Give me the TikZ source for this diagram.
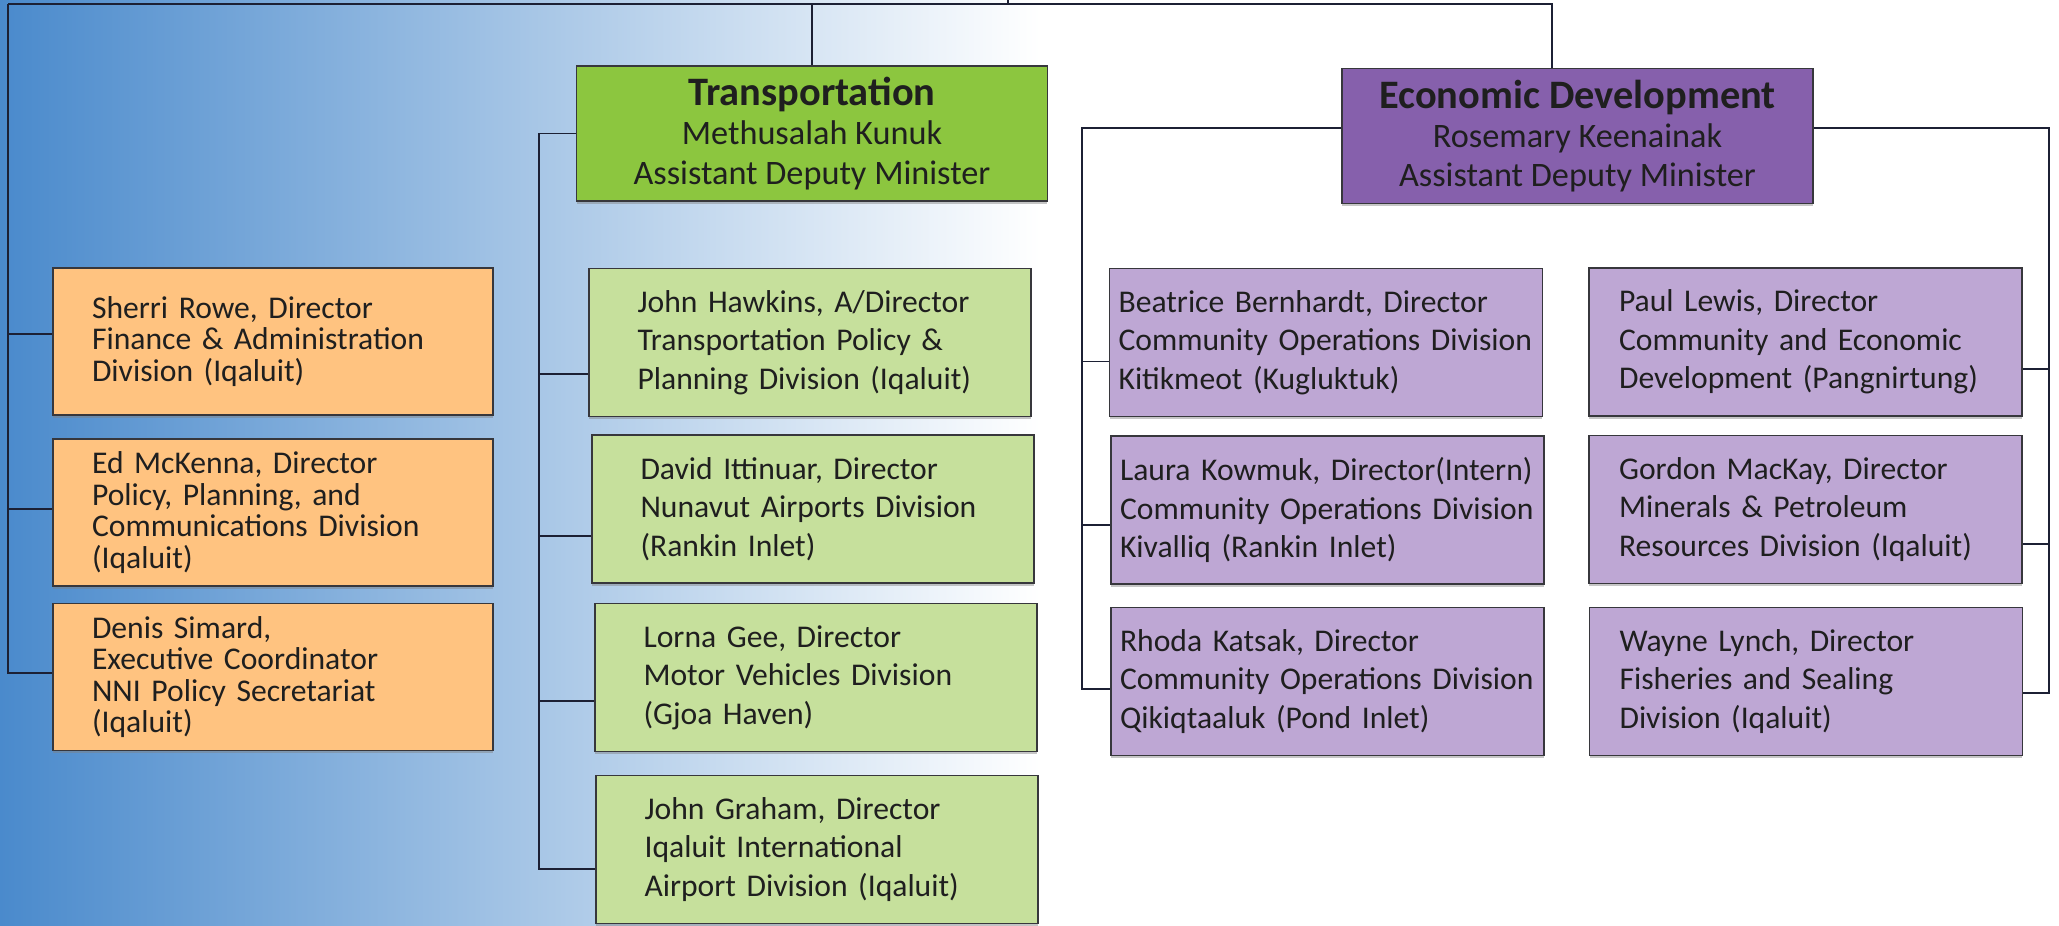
\documentclass[tikz,border=0pt]{standalone}
\usepackage{fontspec}
\setmainfont{Carlito}
\usetikzlibrary{shadows}

\definecolor{bgblue}{RGB}{74,138,204}
\definecolor{bgmid}{RGB}{165,199,231}
\definecolor{orangebox}{RGB}{255,195,128}
\definecolor{greenhead}{RGB}{140,198,63}
\definecolor{greenbox}{RGB}{198,224,156}
\definecolor{purplehead}{RGB}{134,96,172}
\definecolor{purplebox}{RGB}{190,167,212}
\definecolor{edgecol}{RGB}{55,55,60}
\definecolor{linecol}{RGB}{28,32,52}

\tikzset{
  box/.style={draw=edgecol, line width=0.9pt, inner ysep=0pt, text=black!88,
    drop shadow={shadow xshift=0pt, shadow yshift=-1.6pt, opacity=0.45}},
  head/.style={box, align=center, minimum width=9.42cm, minimum height=2.7cm,
    font=\fontsize{19.5}{22.4}\selectfont},
  staff/.style={box, fill=orangebox, align=left, text width=7.24cm, inner xsep=0.78cm,
    minimum height=2.94cm, font=\fontsize{18}{18}\selectfont},
  trans/.style={box, fill=greenbox, align=left, text width=6.9cm, inner xsep=0.97cm,
    minimum height=2.96cm, font=\fontsize{18}{22}\selectfont},
  econL/.style={box, fill=purplebox, align=left, text width=8.3cm, inner xsep=0.18cm,
    minimum height=2.96cm, font=\fontsize{18}{22}\selectfont},
  econR/.style={econL, text width=7.46cm, inner xsep=0.6cm},
  link/.style={draw=linecol, line width=1.1pt}
}

\begin{document}
\begin{tikzpicture}[x=0.02cm, y=-0.02cm]
    \useasboundingbox (0,0) rectangle (2059,926);
    \shade[left color=bgblue, middle color=bgmid, right color=white] (0,0) rectangle (1040,926);

    % division heads
    \node[head, fill=greenhead] (T) at (812,133.5) {{\bfseries\fontsize{23}{26}\selectfont Transportation}\\Methusalah Kunuk\\Assistant Deputy Minister};
    \node[head, fill=purplehead] (E) at (1577.5,136) {{\bfseries\fontsize{23}{26}\selectfont Economic Development}\\Rosemary Keenainak\\Assistant Deputy Minister};

    % directorate
    \node[staff] (o1) at (273,341.5) {Sherri Rowe, Director\\Finance \& Administration\\Division (Iqaluit)};
    \node[staff] (o2) at (273,512.5) {Ed McKenna, Director\\Policy, Planning, and\\Communications Division\\(Iqaluit)};
    \node[staff] (o3) at (273,677) {Denis Simard,\\Executive Coordinator\\NNI Policy Secretariat\\(Iqaluit)};

    % transportation
    \node[trans] (g1) at (810,342.5) {John Hawkins, A/Director\\Transportation Policy \&\\Planning Division (Iqaluit)};
    \node[trans] (g2) at (813,509) {David Ittinuar, Director\\Nunavut Airports Division\\(Rankin Inlet)};
    \node[trans] (g3) at (816,677.5) {Lorna Gee, Director\\Motor Vehicles Division\\(Gjoa Haven)};
    \node[trans] (g4) at (817,849.5) {John Graham, Director\\Iqaluit International\\Airport Division (Iqaluit)};

    % economic development
    \node[econL] (p1) at (1326,342.5) {Beatrice Bernhardt, Director\\Community Operations Division\\Kitikmeot (Kugluktuk)};
    \node[econL] (p2) at (1327.5,510) {Laura Kowmuk, Director(Intern)\\Community Operations Division\\Kivalliq (Rankin Inlet)};
    \node[econL] (p3) at (1327.5,681.5) {Rhoda Katsak, Director\\Community Operations Division\\Qikiqtaaluk (Pond Inlet)};
    \node[econR] (p4) at (1805.5,342) {Paul Lewis, Director\\Community and Economic\\Development (Pangnirtung)};
    \node[econR] (p5) at (1805.5,509.5) {Gordon MacKay, Director\\Minerals \& Petroleum\\Resources Division (Iqaluit)};
    \node[econR] (p6) at (1806,681.5) {Wayne Lynch, Director\\Fisheries and Sealing\\Division (Iqaluit)};

    % top bus
    \coordinate (busL) at (8,4);
    \coordinate (busR) at (1552,4);
    \coordinate (up) at (1008,0);
    \draw[link] (up) -- (up |- busL);
    \draw[link] (busL) -- (busR) -- (busR |- E.north);
    \draw[link] (T.north) -- (T.north |- busL);
    \draw[link] (busL) |- (o3.179);
    \foreach \n/\a in {o1/178, o2/179}
        \draw[link] (busL |- \n.\a) -- (\n.\a);

    % transportation branch
    \coordinate (tbus) at (539,0);
    \draw[link] (T.west) -| (tbus |- g4.185) -- (g4.185);
    \foreach \n/\a in {g1/188, g2/187, g3/186}
        \draw[link] (tbus |- \n.\a) -- (\n.\a);

    % economic development branches
    \coordinate (ebusL) at (1082,0);
    \coordinate (ebusR) at (2049,0);
    \draw[link] (E.178) -| (ebusL |- p3.182) -- (p3.182);
    \draw[link] (E.2) -| (ebusR |- p6.357) -- (p6.357);
    \foreach \n/\a in {p1/185, p2/184}
        \draw[link] (ebusL |- \n.\a) -- (\n.\a);
    \foreach \n/\a in {p4/353, p5/351}
        \draw[link] (ebusR |- \n.\a) -- (\n.\a);
\end{tikzpicture}
\end{document}
